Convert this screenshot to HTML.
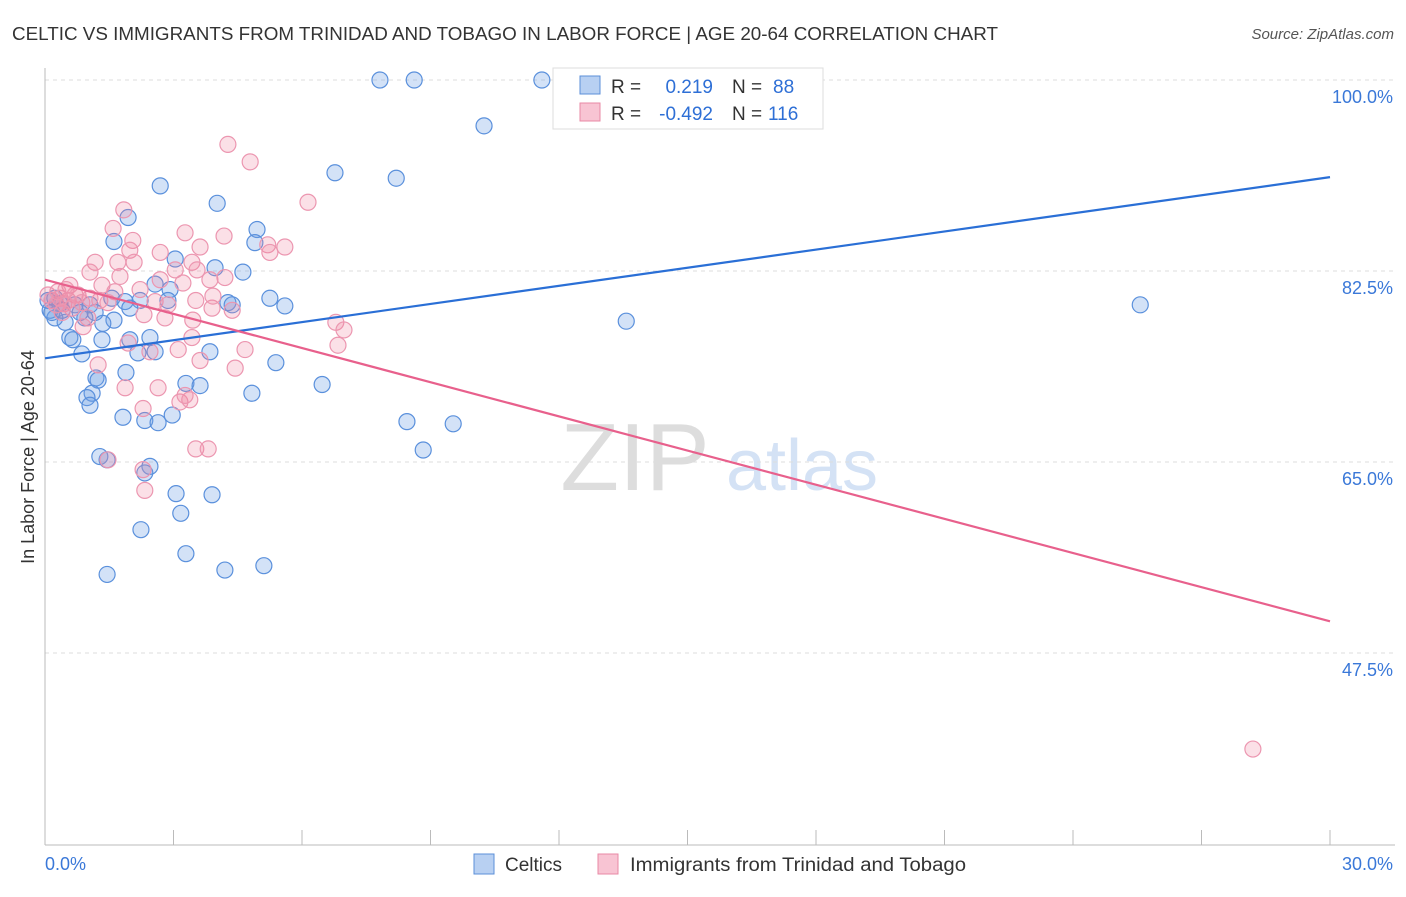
<!DOCTYPE html>
<html><head><meta charset="utf-8"><style>
body{margin:0;background:#fff;font-family:"Liberation Sans",sans-serif;}
svg text{font-family:"Liberation Sans",sans-serif;}
</style></head><body>
<svg id="chart" width="1406" height="892">
<text x="12" y="40" font-size="18" fill="#333" textLength="986" lengthAdjust="spacingAndGlyphs">CELTIC VS IMMIGRANTS FROM TRINIDAD AND TOBAGO IN LABOR FORCE | AGE 20-64 CORRELATION CHART</text>
<text x="1394" y="39" font-size="15" fill="#555" text-anchor="end" font-style="italic">Source: ZipAtlas.com</text>
<text x="635" y="490" font-size="96" fill="#ddd" text-anchor="middle" font-family="Liberation Serif">ZIP</text>
<text x="802" y="490" font-size="72" fill="#d4e2f5" text-anchor="middle">atlas</text>
<g id="grid"></g>
<g id="axes"></g>
<g id="pts"></g>
<g id="lines"></g>
<text transform="translate(34,457) rotate(-90)" font-size="18" fill="#333" text-anchor="middle">In Labor Force | Age 20-64</text>
<g>
<rect x="553" y="68" width="270" height="61" fill="#fff" stroke="#ddd"/>
<rect x="580" y="76" width="20" height="18" fill="#b8d0f2" stroke="#5b8fd8"/>
<rect x="580" y="103" width="20" height="18" fill="#f8c4d3" stroke="#e889a6"/>
<text x="611" y="93" font-size="19" fill="#333">R =</text>
<text x="713" y="93" font-size="19" fill="#2e6fd6" text-anchor="end">0.219</text>
<text x="732" y="93" font-size="19" fill="#333">N =</text>
<text x="773" y="93" font-size="19" fill="#2e6fd6">88</text>
<text x="611" y="120" font-size="19" fill="#333">R =</text>
<text x="713" y="120" font-size="19" fill="#2e6fd6" text-anchor="end">-0.492</text>
<text x="732" y="120" font-size="19" fill="#333">N =</text>
<text x="768" y="120" font-size="19" fill="#2e6fd6">116</text>
</g>
<g>
<rect x="474" y="854" width="20" height="20" fill="#b8d0f2" stroke="#5b8fd8"/>
<text x="505" y="871" font-size="19" fill="#333">Celtics</text>
<rect x="598" y="854" width="20" height="20" fill="#f8c4d3" stroke="#e889a6"/>
<text x="630" y="871" font-size="19" fill="#333" textLength="336" lengthAdjust="spacingAndGlyphs">Immigrants from Trinidad and Tobago</text>
</g>
</svg>
<script>
const yTicks=[100,82.5,65,47.5];
const yTickLabels=["100.0%","82.5%","65.0%","47.5%"];
const xTickLabels=["0.0%","30.0%"];
const blueX=[7.82,8.62,11.6,10.25,2.69,6.77,8.2,4.02,1.94,4.95,1.61,4.9,4.62,3.04,2.57,2.92,3.97,5.25,5.6,4.27,4.37,2.87,2.22,1.87,1.98,13.57,25.57,1.61,1.35,0.93,0.47,0.23,0.12,0.58,0.65,1.33,1.98,2.45,2.57,2.17,3.85,0.86,5.39,1.89,1.19,1.24,3.29,3.62,6.47,4.83,1.1,0.98,1.05,1.82,2.33,2.64,2.97,8.45,9.53,8.83,1.28,1.45,2.45,2.33,3.06,3.9,3.17,2.24,3.29,1.45,4.2,5.11,0.07,0.23,0.35,0.16,0.4,0.7,0.82,1.05,1.17,1.56];
const blueY=[100,100,100,95.8,90.3,91.5,91.0,88.7,87.4,86.3,85.2,85.1,82.4,83.6,81.3,80.8,82.8,80.0,79.3,79.6,79.4,79.8,79.8,79.7,79.1,77.9,79.4,78.0,77.7,78.2,77.8,78.2,78.9,76.4,76.2,76.2,76.2,76.4,75.1,75.0,75.1,74.9,74.1,73.2,72.7,72.5,72.2,72.0,72.1,71.3,71.3,70.9,70.2,69.1,68.8,68.6,69.3,68.7,68.5,66.1,65.5,65.2,64.6,64.0,62.1,62.0,60.3,58.8,56.6,54.7,55.1,55.5,79.8,80.0,79.5,78.7,78.9,79.4,78.7,79.4,78.7,80.0];
const pinkX=[4.27,4.79,6.14,1.84,1.59,3.27,4.18,2.05,3.62,5.6,5.2,5.25,2.69,1.98,2.08,1.7,1.17,3.43,3.55,3.04,2.69,3.22,3.85,4.2,1.75,1.05,0.58,1.33,0.7,2.22,1.63,1.28,1.47,2.57,2.87,3.52,3.9,4.37,3.92,2.31,2.8,3.45,6.79,6.98,6.84,1.0,0.89,1.94,3.11,2.45,3.43,4.67,3.62,1.24,4.44,1.87,2.64,3.15,3.38,3.27,2.29,3.52,3.81,1.47,2.29,2.33,28.2,0.07,0.16,0.26,0.35,0.44,0.54,0.63,0.3,0.49,0.77,0.86,1.05,0.4];
const pinkY=[94.1,92.5,88.8,88.1,86.4,86.0,85.7,85.3,84.7,84.7,84.9,84.2,84.2,84.4,83.3,83.3,83.3,83.3,82.6,82.6,81.7,81.4,81.7,81.9,82.0,82.4,81.2,81.2,80.3,80.8,80.6,79.8,79.6,79.7,79.4,79.8,79.1,78.9,80.2,78.5,78.2,78.0,77.8,77.1,75.7,78.2,77.4,75.9,75.3,75.1,76.4,75.3,74.3,73.9,73.6,71.8,71.8,70.5,70.7,71.1,69.9,66.2,66.2,65.2,64.3,62.4,38.7,80.3,79.8,79.4,80.0,79.5,79.8,79.1,80.6,80.8,80.3,79.6,80.0,78.7];
const blueLine=[74.5,91.1];
const pinkLine=[81.7,50.4];
const NS="http://www.w3.org/2000/svg";
const xs=v=>45+v*(1285/30);
const ys=v=>80+(100-v)*(191/17.5);
function mk(tag,attrs,parent){const e=document.createElementNS(NS,tag);for(const k in attrs)e.setAttribute(k,attrs[k]);parent.appendChild(e);return e;}
const grid=document.getElementById('grid'),axes=document.getElementById('axes'),pts=document.getElementById('pts'),lines=document.getElementById('lines');
yTicks.forEach((t,i)=>{
 const l=mk('line',{x1:45,x2:1395,y1:ys(t),y2:ys(t),stroke:'#ddd','stroke-dasharray':'4,4'},grid);
 
 
 const tx=mk('text',{x:1393,y:ys(t)+23,'font-size':18,fill:'#3a78d8','text-anchor':'end'},axes);
 tx.textContent=yTickLabels[i];
 
 
});
const ax=mk('line',{x1:45,x2:1395,y1:845,y2:845,stroke:'#bbb'},axes);


const ay=mk('line',{x1:45,x2:45,y1:68,y2:845,stroke:'#bbb'},axes);


for(let i=0;i<=10;i++){
 const t=mk('line',{x1:xs(i*3),x2:xs(i*3),y1:830,y2:845,stroke:'#bbb'},axes);
 
 
}
[[0,'start'],[30,'end']].forEach(([v,a],i)=>{
 const t=mk('text',{x:v===0?45:1393,y:870,'font-size':18,fill:'#3a78d8','text-anchor':a},axes);
 t.textContent=xTickLabels[i];
 
 
});
blueX.forEach((x,i)=>{
 const c=mk('circle',{cx:xs(x),cy:ys(blueY[i]),r:8,fill:'rgba(110,160,230,0.3)',stroke:'#5a90dc','stroke-width':1.2},pts);
 
 
});
pinkX.forEach((x,i)=>{
 const c=mk('circle',{cx:xs(x),cy:ys(pinkY[i]),r:8,fill:'rgba(240,130,160,0.25)',stroke:'#ec96b0','stroke-width':1.2},pts);
 
 
});
const bl=mk('line',{x1:xs(0),y1:ys(blueLine[0]),x2:xs(30),y2:ys(blueLine[1]),stroke:'#2a6fd6','stroke-width':2.2},lines);


const pl=mk('line',{x1:xs(0),y1:ys(pinkLine[0]),x2:xs(30),y2:ys(pinkLine[1]),stroke:'#e8608c','stroke-width':2.2},lines);


</script>
</body></html>
